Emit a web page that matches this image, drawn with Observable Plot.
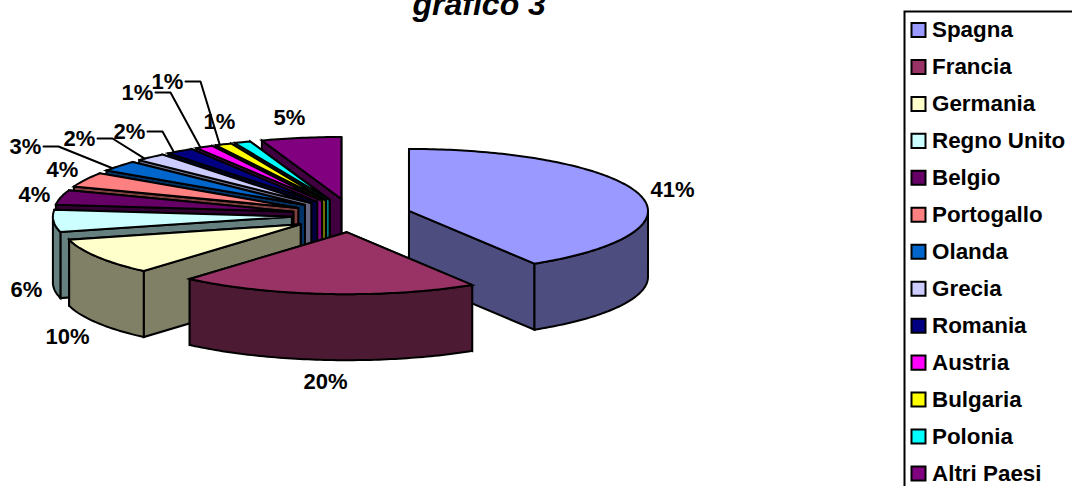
<!DOCTYPE html>
<html><head><meta charset="utf-8">
<script src="https://cdn.jsdelivr.net/npm/d3@7"></script>
<script src="https://cdn.jsdelivr.net/npm/@observablehq/plot@0.6"></script>
<style>
html,body{margin:0;padding:0;background:#fff;overflow:hidden;width:1072px;height:486px;position:relative}
svg{display:block}
#legend{position:absolute;left:903px;top:0}
#pie{position:absolute;left:0;top:0}
</style></head><body><div id="pie"></div><div id="legend"></div>
<script>
const countries = ["Spagna","Francia","Germania","Regno Unito","Belgio","Portogallo","Olanda","Grecia","Romania","Austria","Bulgaria","Polonia","Altri Paesi"];
const shares = [41.2,20.2,9.6,5.8,3.8,3.8,2.8,2.1,1.9,1.2,1.1,1.1,5.4];
const topColors = ["#9999FF","#993366","#FFFFCC","#CCFFFF","#660066","#FF8080","#0066CC","#CCCCFF","#000080","#FF00FF","#FFFF00","#00FFFF","#800080"];
const wallColors = ["#4D4D80","#4D1A33","#808066","#668080","#330033","#804040","#003366","#666680","#000040","#800080","#808000","#008080","#400040"];

// layout of the tilted pie, in pixels
const W = 1072, H = 486, cx = 351, cy = 215, rx = 239, ry = 62, depth = 66 / 62;
const explodeX = 0.25, explodeY = 0.27;
const FONT = "'Liberation Sans', Arial, sans-serif";
// where each percentage label sits (page pixels), and which labels have a leader line
const labelSpots = [[672,189],[325,381],[67,336],[26,289],[34,194],[62,169],[25,146],[79,138],[129,131],[137,92],[167,81],[219,121],[289,117]];
const hasLeader = [0,0,0,0,0,0,1,1,1,1,1,0,0];

const rad = d => d * Math.PI / 180;
let cum = 0;
const slices = countries.map((name, i) => {
  const a0 = cum / 100 * 360; cum += shares[i]; const a1 = cum / 100 * 360;
  const m = (a0 + a1) / 2;
  return {name, i, a0, a1, m, ox: explodeX * Math.sin(rad(m)), oy: -explodeY * Math.cos(rad(m))};
});
const order = slices.slice().sort((p, q) => p.oy - q.oy);
const pt = (s, a, z = 0) => ({x: s.ox + Math.sin(rad(a)), y: s.oy - Math.cos(rad(a)) + z});
const faces = [];
function face(id, fill, pts) { pts.concat(pts[0]).forEach(p => faces.push({...p, id, fill})); }
for (const s of order) {
  const top = topColors[s.i], wall = wallColors[s.i];
  const c = {x: s.ox, y: s.oy};
  for (const a of [s.a1, s.a0]) {
    face(`${s.name}-r${a}`, wall, [c, pt(s, a), pt(s, a, depth), {x: c.x, y: c.y + depth}]);
  }
  const lo = Math.max(s.a0, 90), hi = Math.min(s.a1, 270);
  if (hi > lo) {
    const arc = d3.range(lo, hi, 1).concat(hi);
    face(`${s.name}-o`, wall, arc.map(a => pt(s, a)).concat(arc.slice().reverse().map(a => pt(s, a, depth))));
  }
  const arc = d3.range(s.a0, s.a1, 1).concat(s.a1);
  face(`${s.name}-t`, top, [c].concat(arc.map(a => pt(s, a))));
}
const labels = slices.map(s => {
  const p = pt(s, s.a0 + 0.25 * (s.a1 - s.a0));
  const [lx, ly] = labelSpots[s.i];
  return {x: (lx - cx) / rx, y: (ly - cy) / ry, rimx: p.x, rimy: p.y, text: Math.round(shares[s.i]) + "%", leader: hasLeader[s.i]};
});
const leaders = [];
labels.filter(l => l.leader).forEach((l, k) => {
  const sx = l.x + 18 / rx, ex = l.x + 33 / rx;
  [[sx, l.y],[ex, l.y],[l.rimx, l.rimy]].forEach(([x, y]) => leaders.push({x, y, k}));
});

const pie = Plot.plot({
  width: W, height: H, margin: 0,
  x: {type: "linear", domain: [-cx / rx, (W - cx) / rx], range: [0, W], axis: null},
  y: {type: "linear", domain: [-cy / ry, (H - cy) / ry], range: [0, H], axis: null},
  color: {type: "identity"},
  marks: [
    Plot.line(faces, {x: "x", y: "y", z: "id", fill: "fill", stroke: "#000", strokeWidth: 2, strokeLinejoin: "miter", strokeMiterlimit: 4}),
    Plot.line(leaders, {x: "x", y: "y", z: "k", stroke: "#000", strokeWidth: 2, strokeLinejoin: "miter"}),
    Plot.text(labels, {x: "x", y: "y", text: "text", fontSize: 22, fontWeight: "bold", fontFamily: FONT, fill: "#000"}),
    Plot.text(["grafico 3"], {frameAnchor: "top-left", dx: 412, dy: -8, lineAnchor: "top", textAnchor: "start", fontSize: 32, fontWeight: "bold", fontStyle: "italic", fontFamily: FONT, fill: "#000"})
  ]
});
document.getElementById("pie").append(pie);

const legendRows = countries.map((name, i) => ({name, color: topColors[i]}));
const legend = Plot.plot({
  width: W - 903, height: H, margin: 0,
  x: {type: "linear", domain: [0, W - 903], range: [0, W - 903], axis: null},
  y: {type: "point", domain: countries, range: [29.5, 473], padding: 0, round: false, axis: null},
  color: {type: "identity"},
  marks: [
    Plot.frame({stroke: "#000", strokeWidth: 2, insetLeft: 1, insetTop: 11, insetRight: -10, insetBottom: -10, fill: "none"}),
    Plot.dot(legendRows, {x: () => 15, y: "name", symbol: "square", r: 7.9, fill: "color", stroke: "#000", strokeWidth: 2}),
    Plot.text(legendRows, {x: () => 28.5, y: "name", text: "name", textAnchor: "start", fontSize: 22.4, fontWeight: "bold", fontFamily: FONT, fill: "#000"})
  ]
});
document.getElementById("legend").append(legend);
</script></body></html>
